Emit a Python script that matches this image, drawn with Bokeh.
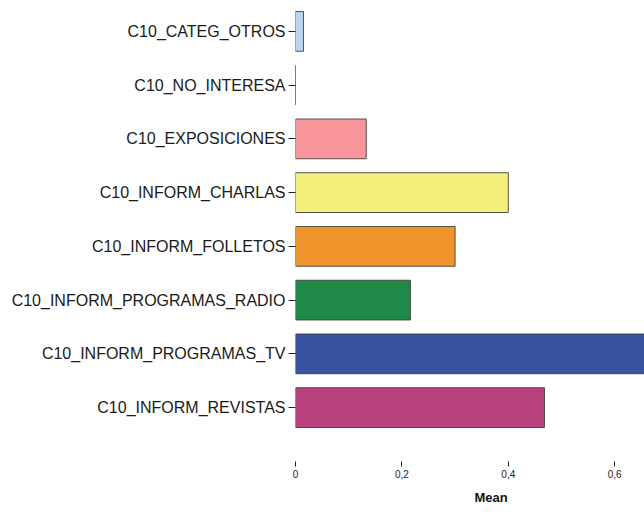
from bokeh.plotting import figure
from bokeh.models import (ColumnDataSource, FactorRange, Range1d, FixedTicker,
                          CustomJSTickFormatter, Title)
from bokeh.embed import file_html
from bokeh.resources import INLINE

categories = ["C10_CATEG_OTROS", "C10_NO_INTERESA", "C10_EXPOSICIONES",
              "C10_INFORM_CHARLAS", "C10_INFORM_FOLLETOS",
              "C10_INFORM_PROGRAMAS_RADIO", "C10_INFORM_PROGRAMAS_TV",
              "C10_INFORM_REVISTAS"]
means = [0.015, 0.0, 0.133, 0.40, 0.30, 0.216, 0.73, 0.468]
colors = ["#bcd5ee", "#ffffff", "#f7959b", "#f2ef7a", "#ef952b",
          "#1f8a48", "#3753a0", "#b8407d"]
x_ticks = [0, 0.2, 0.4, 0.6]
x_title = "Mean"

src = ColumnDataSource(dict(cat=categories, mean=means, color=colors))

p = figure(width=644, height=512, output_backend="svg", toolbar_location=None,
           y_range=FactorRange(factors=categories[::-1], range_padding=0),
           x_range=Range1d(0, 0.656),
           min_border_left=295, min_border_right=0, min_border_top=4,
           min_border_bottom=76)
p.outline_line_color = None
p.grid.visible = False
p.background_fill_color = "white"

p.hbar(y="cat", right="mean", left=0, height=0.74, source=src,
       fill_color="color", line_color="#3a3a3a", line_width=1, line_alpha=0.85)

ya = p.yaxis[0]
ya.axis_line_color = None
ya.major_tick_out = 7
ya.major_tick_in = 0
ya.minor_tick_line_color = None
ya.major_tick_line_color = "#222222"
ya.major_label_standoff = 3
ya.major_label_text_font = "Liberation Sans"
ya.major_label_text_font_size = "16px"
ya.major_label_text_color = "#1a1a1a"

xa = p.xaxis[0]
xa.ticker = FixedTicker(ticks=x_ticks)
xa.formatter = CustomJSTickFormatter(code="return tick.toString().replace('.', ',')")
xa.axis_line_color = None
xa.minor_tick_line_color = None
xa.major_tick_in = -27
xa.major_tick_out = 32
xa.major_tick_line_color = "#222222"
xa.major_label_standoff = 3
xa.major_label_text_font = "Liberation Sans"
xa.major_label_text_font_size = "10px"
xa.major_label_text_color = "#222222"

t = Title(text=x_title, align="left", offset=179, text_font="Liberation Sans",
          text_font_size="13px", text_font_style="bold", text_color="#111111",
          standoff=15)
p.add_layout(t, "below")

open("out.html", "w").write(file_html(p, INLINE))
